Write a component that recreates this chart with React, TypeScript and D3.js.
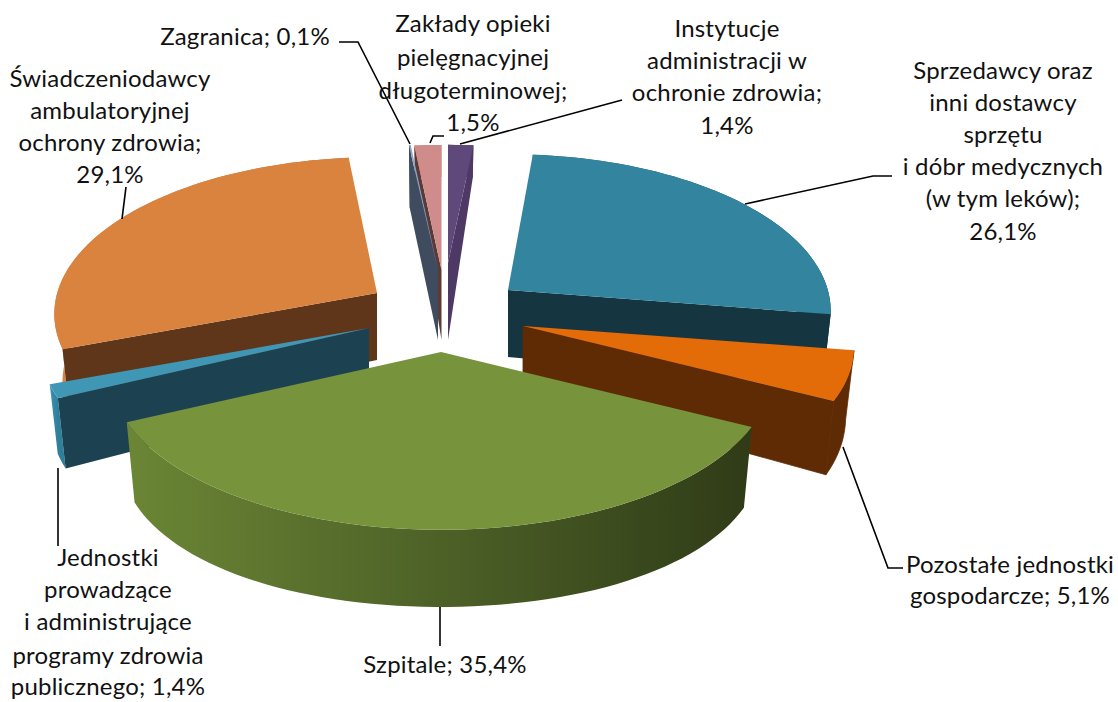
import React from "react";
import * as d3 from "d3";

// Health-care spending shares, clockwise from twelve o'clock.
const categories = [
  "Instytucje",
  "Sprzedawcy",
  "Pozostałe",
  "Szpitale",
  "Jednostki",
  "Świadczeniodawcy",
  "Zagranica",
  "Zakłady",
];
const shares = [1.4, 26.1, 5.1, 35.4, 1.4, 29.1, 0.1, 1.5];

const labelLines = [
  ["Instytucje", "administracji w", "ochronie zdrowia;", "{v}"],
  ["Sprzedawcy oraz", "inni dostawcy", "sprzętu", "i dóbr medycznych", "(w tym leków);", "{v}"],
  ["Pozostałe jednostki", "gospodarcze; {v}"],
  ["Szpitale; {v}"],
  ["Jednostki", "prowadzące", "i administrujące", "programy zdrowia", "publicznego; {v}"],
  ["Świadczeniodawcy", "ambulatoryjnej", "ochrony zdrowia;", "{v}"],
  ["Zagranica; {v}"],
  ["Zakłady opieki", "pielęgnacyjnej", "długoterminowej;", "{v}"],
];

// Text anchor for each label: centre x and the baseline of each line.
const labelX = [727, 1003, 1010, 445, 108, 110, 245, 473];
const labelBaselines = [
  [37, 69, 101, 134],
  [79, 111, 143, 175, 207, 240],
  [573, 604],
  [673],
  [566, 598, 630, 664, 695],
  [87, 119, 151, 183],
  [45],
  [32, 66, 99, 131],
];

const leaders: [number, number][][] = [
  [[460, 144], [622, 100]],
  [[745, 204], [873, 176], [892, 176]],
  [[843, 447], [888, 568], [903, 568]],
  [[440, 607], [440, 646]],
  [[58, 468], [58, 546]],
  [[122, 219], [126, 187]],
  [[339, 42], [358, 42], [410, 144]],
  [[430, 143], [433, 136], [444, 136]],
];

const topColors = ["#5f497a", "#32849f", "#e36c09", "#77933c", "#3f97b5", "#da833e", "#8aa4cc", "#cf8c8a"];
const faceColors = ["#4d3866", "#153540", "#5e2b04", "#4f6327", "#1c4252", "#5f361a", "#3f4c5f", "#5a3a36"];
const rimStops = [
  ["#4d3866", "#4d3866"],
  ["#2a6a80", "#153540"],
  ["#5e2b04", "#5e2b04"],
  ["#6b8635", "#4d6127", "#2f3b17"],
  ["#3b93b0", "#2f7f9b"],
  ["#d9823d", "#b86f33"],
  ["#3f4c5f", "#3f4c5f"],
  ["#cf8c8a", "#cf8c8a"],
];

// Where each exploded slice's tip sits, and how each slice is squeezed.
const apex: [number, number][] = [
  [448, 263], [508, 290], [523, 326], [441, 352], [369, 328], [377, 293], [438, 270], [441.5, 270],
];
const sliceDepth = [77, 67, 65, 72, 62, 67, 70, 70];
const sliceRadius = [1, 0.975, 1, 1, 0.99, 0.975, 1, 1];
const backTilt = [0.87, 1, 1, 1, 1, 1, 0.92, 0.92];
const bottomBack = [163, 163, 163, 163, 163, 163, 133, 163];

// Painter's order, rearmost slice first.
const paintOrder = [7, 6, 0, 1, 5, 4, 2, 3];

const RX = 328;
const RY = 154;
const PERSPECTIVE = 0.134;
const BOTTOM_SHRINK = 0.975;
const BOTTOM_FRONT = 183;

const pie = d3.pie<number>().sort(null).value((d) => d);
const arcs = pie(shares);

const topPoint = (i: number, theta: number, r = 1): [number, number] => {
  const z = -Math.cos(theta) * r;
  const s = 1 / (1 - PERSPECTIVE * z);
  const tilt = z < 0 ? backTilt[i] : 1;
  return [apex[i][0] + r * sliceRadius[i] * RX * Math.sin(theta) * s, apex[i][1] + RY * z * s * tilt];
};

const bottomPoint = (i: number, theta: number, r = 1): [number, number] => {
  const z = -Math.cos(theta) * r;
  const s = 1 / (1 - PERSPECTIVE * z);
  const ry = z < 0 ? bottomBack[i] : BOTTOM_FRONT;
  return [
    apex[i][0] + r * sliceRadius[i] * RX * BOTTOM_SHRINK * Math.sin(theta) * s,
    apex[i][1] + sliceDepth[i] + ry * z,
  ];
};

const line = d3.line<[number, number]>();

const arcSamples = (a: number, b: number) => {
  const n = Math.max(2, Math.ceil(((b - a) / Math.PI) * 90));
  return d3.range(n + 1).map((k) => a + ((b - a) * k) / n);
};

const formatShare = (v: number) => `${v.toFixed(1).replace(".", ",")}%`;

function Slice({ i }: { i: number }) {
  const { startAngle: a, endAngle: b } = arcs[i];
  const thetas = arcSamples(a, b);
  const topArc = thetas.map((t) => topPoint(i, t));
  const bottomArc = thetas.map((t) => bottomPoint(i, t));
  const tipTop = apex[i];
  const tipBottom: [number, number] = [apex[i][0], apex[i][1] + sliceDepth[i]];
  const rim = [...topArc, ...bottomArc.slice().reverse()];
  const startFace = [tipTop, topArc[0], bottomArc[0], tipBottom] as [number, number][];
  const last = topArc.length - 1;
  const endFace = [tipTop, topArc[last], bottomArc[last], tipBottom] as [number, number][];
  // A cut face only shows when it turns towards the viewer.
  const showStart = a > Math.PI;
  const showEnd = b < Math.PI;
  const seam = i === 2 ? faceColors[i] : "none";
  return (
    <g data-name={categories[i]}>
      <path d={line(rim) + "Z"} fill={`url(#rim${i})`} stroke={seam} strokeWidth={0.8} />
      {showStart && <path d={line(startFace) + "Z"} fill={faceColors[i]} />}
      {showEnd && <path d={line(endFace) + "Z"} fill={faceColors[i]} stroke={seam} strokeWidth={0.8} />}
      <path d={line([tipTop, ...topArc]) + "Z"} fill={topColors[i]} />
    </g>
  );
}

export default function App() {
  return (
    <svg
      width={1118}
      height={702}
      style={{ position: "absolute", left: 0, top: 0, background: "#fff" }}
      fontFamily="Lato, 'Open Sans', sans-serif"
    >
      <defs>
        {shares.map((_, i) => {
          const xs = arcSamples(arcs[i].startAngle, arcs[i].endAngle).map((t) => topPoint(i, t)[0]);
          const [lo, hi] = d3.extent(xs) as [number, number];
          return (
            <linearGradient key={i} id={`rim${i}`} gradientUnits="userSpaceOnUse" x1={lo} x2={hi} y1={0} y2={0}>
              {rimStops[i].map((c, k) => (
                <stop key={k} offset={k / (rimStops[i].length - 1)} stopColor={c} />
              ))}
            </linearGradient>
          );
        })}
      </defs>
      {paintOrder.map((i) => (
        <Slice key={i} i={i} />
      ))}
      {leaders.map((pts, i) => (
        <path key={i} d={line(pts) ?? ""} fill="none" stroke="#000" strokeWidth={1.6} />
      ))}
      {labelLines.map((lines, i) =>
        lines.map((t, k) => (
          <text
            key={`${i}-${k}`}
            x={labelX[i]}
            y={labelBaselines[i][k]}
            textAnchor="middle"
            fontSize={24}
            letterSpacing={0.2}
            fill="#111"
          >
            {t.replace("{v}", formatShare(shares[i]))}
          </text>
        ))
      )}
    </svg>
  );
}
